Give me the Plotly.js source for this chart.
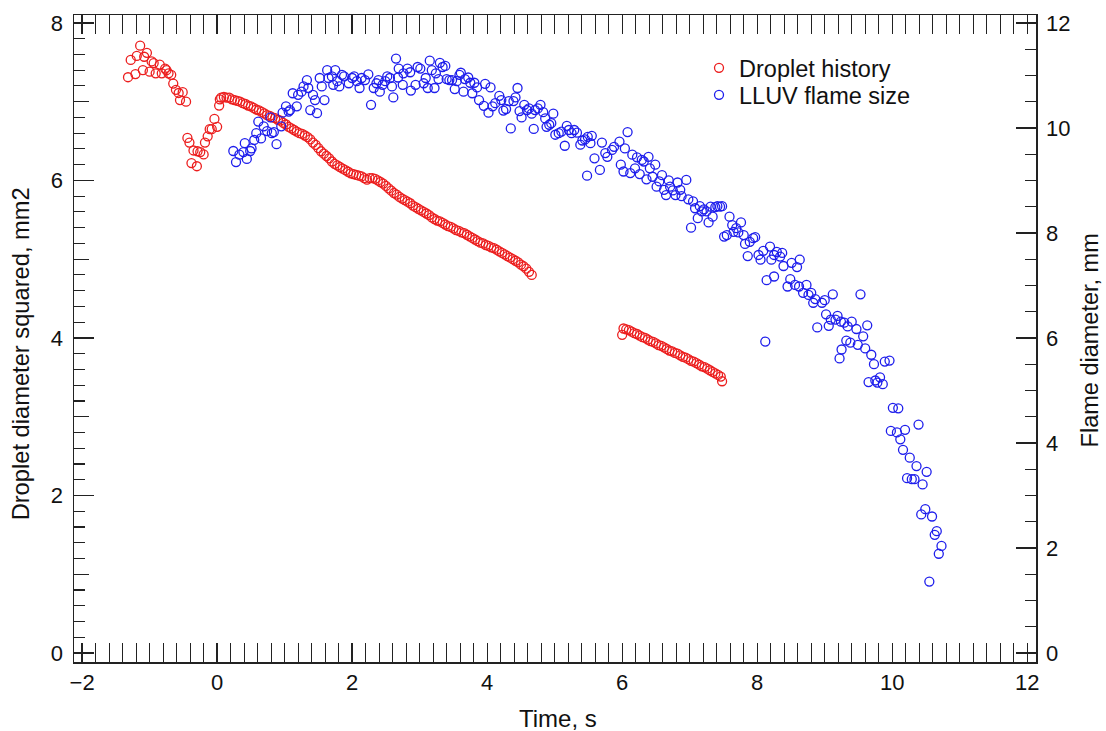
<!DOCTYPE html>
<html>
<head>
<meta charset="utf-8">
<script src="https://cdn.plot.ly/plotly-3.0.1.min.js"></script>
<style>html,body{margin:0;padding:0;background:#fff;}#chart{width:1106px;height:731px;}</style>
</head>
<body>
<div id="chart"></div>
<script>
// Droplet history (left axis, mm^2)
var dropletTime = [
-1.32,-1.28,-1.21,-1.19,-1.14,-1.10,-1.08,-1.04,-1.00,-0.97,-0.94,-0.91,-0.85,-0.82,-0.77,-0.75,-0.72,-0.68,-0.65,-0.61,-0.57,-0.55,-0.51,-0.46,
-0.44,-0.41,-0.38,-0.35,-0.30,-0.29,-0.25,-0.20,-0.18,-0.14,-0.11,-0.08,-0.04,0.00,0.03,0.04,
0.06,0.10,0.14,0.18,0.22,0.26,0.30,0.34,0.38,0.42,0.46,0.50,0.54,0.58,0.62,0.66,0.70,0.74,0.78,0.82,0.86,0.90,0.94,0.98,
1.02,1.06,1.10,1.14,1.18,1.22,1.26,1.30,1.34,1.38,1.42,1.46,1.50,1.54,1.58,1.62,1.66,1.70,1.74,1.78,1.82,1.86,1.90,1.94,1.98,
2.02,2.06,2.10,2.14,2.18,2.22,2.26,2.30,2.34,2.38,2.42,2.46,2.50,2.54,2.58,2.62,2.66,2.70,2.74,2.78,2.82,2.86,2.90,2.94,2.98,
3.02,3.06,3.10,3.14,3.18,3.22,3.26,3.30,3.34,3.38,3.42,3.46,3.50,3.54,3.58,3.62,3.66,3.70,3.74,3.78,3.82,3.86,3.90,3.94,3.98,
4.02,4.06,4.10,4.14,4.18,4.22,4.26,4.30,4.34,4.38,4.42,4.46,4.50,4.54,4.58,4.62,4.66,
6.00,6.02,6.06,6.10,6.14,6.18,6.22,6.26,6.30,6.34,6.38,6.42,6.46,6.50,6.54,6.58,6.62,6.66,6.70,6.74,6.78,6.82,6.86,6.90,6.94,6.98,
7.02,7.06,7.10,7.14,7.18,7.22,7.26,7.30,7.34,7.38,7.42,7.46,7.48
];
var dropletD2 = [
7.31,7.53,7.35,7.58,7.71,7.40,7.57,7.62,7.38,7.51,7.49,7.36,7.47,7.36,7.42,7.40,7.36,7.34,7.23,7.15,7.11,7.02,7.12,7.00,
6.54,6.48,6.22,6.38,6.18,6.37,6.36,6.33,6.48,6.56,6.65,6.65,6.78,6.68,6.95,7.03,
7.05,7.06,7.05,7.05,7.03,7.02,7.01,7.00,6.98,6.97,6.95,6.94,6.92,6.90,6.89,6.87,6.85,6.83,6.82,6.80,6.79,6.77,6.76,6.73,
6.71,6.68,6.66,6.64,6.62,6.60,6.59,6.57,6.55,6.52,6.48,6.45,6.41,6.37,6.34,6.31,6.28,6.24,6.21,6.19,6.17,6.15,6.13,6.11,6.09,
6.08,6.07,6.06,6.05,6.03,6.01,6.03,6.03,6.02,6.00,5.98,5.96,5.93,5.90,5.87,5.84,5.82,5.79,5.77,5.75,5.73,5.71,5.68,5.66,5.64,
5.62,5.60,5.58,5.56,5.53,5.51,5.49,5.48,5.46,5.44,5.42,5.41,5.39,5.37,5.36,5.34,5.33,5.31,5.29,5.27,5.25,5.23,5.21,5.20,5.18,
5.17,5.15,5.14,5.12,5.10,5.08,5.06,5.04,5.02,5.00,4.98,4.96,4.93,4.91,4.88,4.84,4.80,
4.04,4.12,4.11,4.10,4.08,4.06,4.05,4.03,4.01,4.00,3.98,3.96,3.95,3.93,3.91,3.90,3.88,3.86,3.84,3.83,3.81,3.80,3.78,3.76,3.75,3.73,
3.71,3.70,3.68,3.66,3.64,3.63,3.61,3.59,3.57,3.55,3.53,3.51,3.45
];

// LLUV flame size (right axis, mm)
var flameTime = [
0.24,0.28,0.33,0.39,0.41,0.44,0.49,0.51,0.55,0.58,0.61,0.65,0.69,0.74,0.79,0.81,0.84,0.88,0.95,0.97,
1.02,1.06,1.08,1.12,1.18,1.20,1.25,1.28,1.33,1.35,1.38,1.42,1.45,1.48,1.52,1.55,1.59,1.63,1.65,1.70,1.72,1.75,1.78,1.81,1.85,1.88,1.95,
2.00,2.03,2.07,2.11,2.14,2.19,2.24,2.28,2.32,2.36,2.39,2.41,2.45,2.49,2.52,2.56,2.59,2.61,2.65,2.69,2.68,2.76,2.75,2.82,2.86,2.87,2.94,2.97,
3.01,3.06,3.09,3.12,3.15,3.18,3.22,3.24,3.28,3.30,3.34,3.38,3.40,3.44,3.48,3.52,3.55,3.59,3.61,3.65,3.67,3.72,3.75,3.78,3.81,3.85,3.88,3.95,3.97,
4.02,4.05,4.08,4.12,4.18,4.21,4.24,4.28,4.32,4.35,4.39,4.42,4.45,4.48,4.51,4.55,4.59,4.62,4.66,4.69,4.71,4.75,4.79,4.83,4.86,4.88,4.92,4.95,4.98,
5.01,5.06,5.10,5.15,5.18,5.21,5.25,5.29,5.33,5.38,5.41,5.45,5.49,5.53,5.55,5.48,5.59,5.67,5.70,5.75,5.78,5.85,5.88,5.96,5.98,
6.02,6.04,6.08,6.12,6.15,6.19,6.22,6.26,6.29,6.32,6.36,6.39,6.41,6.45,6.49,6.51,6.55,6.59,6.62,6.65,6.69,6.71,6.75,6.79,6.82,6.86,6.88,6.95,6.98,
7.02,7.05,7.08,7.12,7.15,7.18,7.21,7.25,7.28,7.31,7.34,7.38,7.41,7.45,7.48,7.51,7.55,7.59,7.63,7.65,7.69,7.72,7.76,7.80,7.82,7.86,7.89,7.94,7.97,
8.02,8.05,8.09,8.19,8.21,8.25,8.29,8.34,8.37,8.14,8.25,8.39,8.45,8.49,8.51,8.56,8.59,8.63,8.62,8.12,8.68,8.73,8.76,8.80,8.83,8.86,8.96,
9.00,9.12,8.89,9.02,9.06,9.09,9.16,9.19,9.24,9.29,9.34,9.40,9.47,9.53,9.63,9.57,9.32,9.38,9.49,9.25,9.22,9.60,9.69,9.73,9.89,9.96,9.65,9.75,9.82,9.78,9.86,
10.01,10.09,9.98,10.07,10.19,10.12,10.39,10.16,10.26,10.36,10.51,10.22,10.29,10.33,10.45,10.49,10.43,10.59,10.66,10.63,10.73,10.69,10.55
];
var flameDiam = [
9.56,9.35,9.49,9.54,9.71,9.41,9.56,9.61,9.77,9.90,10.12,9.80,10.03,9.94,10.20,9.90,9.92,9.69,10.03,10.29,
10.41,10.31,10.34,10.66,10.41,10.63,10.69,10.79,10.91,10.76,10.34,10.63,10.53,10.28,10.95,10.79,10.53,11.10,10.95,10.98,10.82,11.10,10.89,10.79,11.01,10.98,10.85,
10.95,10.98,10.89,10.76,10.95,10.91,11.02,10.44,10.76,10.85,10.91,10.69,10.82,10.89,10.98,10.95,10.79,10.58,11.32,11.13,10.96,11.04,10.82,11.13,11.06,10.71,10.82,11.16,
11.13,10.85,10.95,10.76,11.28,11.10,10.76,11.04,10.93,11.24,11.16,11.18,10.93,10.91,10.91,10.74,10.89,11.01,11.05,10.69,10.93,10.96,10.86,10.66,10.86,10.77,10.53,10.42,10.84,
10.29,10.77,10.41,10.47,10.61,10.53,10.33,10.36,10.51,9.99,10.51,10.58,10.76,10.32,10.20,10.44,10.34,10.37,10.27,9.98,10.34,10.37,10.44,10.30,10.18,10.02,10.06,10.09,10.27,
9.87,9.90,9.93,9.66,10.04,9.96,9.90,9.96,9.91,9.68,9.76,9.78,9.83,9.71,9.85,9.09,9.42,9.20,9.72,9.52,9.45,9.58,9.64,9.74,9.30,
9.17,9.61,9.92,9.14,9.49,9.23,9.44,9.12,9.39,9.36,9.02,9.45,9.23,9.07,9.30,8.88,8.98,9.10,8.82,8.72,9.00,8.88,8.81,8.72,8.96,8.82,8.70,9.01,8.64,
8.10,8.60,8.47,8.28,8.51,8.41,8.45,8.41,8.20,8.50,8.31,8.49,8.51,8.50,8.51,7.93,7.96,8.31,8.15,8.02,8.09,8.01,8.20,7.96,7.79,7.56,7.83,7.90,7.92,
7.58,7.49,7.66,7.74,7.49,7.58,7.64,7.55,7.62,7.10,7.17,7.37,6.98,7.12,7.43,7.01,7.35,7.49,6.98,5.93,6.86,7.01,6.82,6.86,6.67,6.74,6.67,
6.72,6.83,6.20,6.45,6.23,6.35,6.35,6.42,6.31,6.29,6.22,6.31,6.17,6.83,6.24,6.03,5.95,5.91,5.87,5.78,5.61,5.80,5.68,5.50,5.55,5.57,5.16,5.19,5.25,5.15,5.12,
4.67,4.66,4.23,4.20,4.25,4.07,4.35,3.87,3.72,3.56,3.45,3.33,3.31,3.31,3.21,2.74,2.64,2.60,2.32,2.25,2.04,1.89,1.36
];

var xMajor = [-2,0,2,4,6,8,10,12];
var xMid = [-1,1,3,5,7,9,11];
var yLeftMajor = [0,2,4,6,8];
var yLeftMid = [1,3,5,7];
var yRightMajor = [0,2,4,6,8,10,12];

var FONT = 'Liberation Sans, Arial, Helvetica, sans-serif';
var AX = '#222';
var TXT = '#111';
var xRange = [-2.12, 12.13];
var yRange = [-0.114, 8.10];
var y2Range = [yRange[0]*1.5, yRange[1]*1.5];

var traces = [
  {x: dropletTime, y: dropletD2, name: 'Droplet history', type: 'scatter', mode: 'markers',
   xaxis: 'x', yaxis: 'y', legend: 'legend',
   marker: {symbol: 'circle-open', size: 9, color: 'rgb(236,30,30)', line: {width: 1.3}}},
  {x: flameTime, y: flameDiam, name: 'LLUV flame size', type: 'scatter', mode: 'markers',
   xaxis: 'x', yaxis: 'y2', legend: 'legend2',
   marker: {symbol: 'circle-open', size: 9, color: 'rgb(30,30,236)', line: {width: 1.3}}},
  {x: [], y: [], xaxis: 'x2', yaxis: 'y', showlegend: false, hoverinfo: 'skip'},
  {x: [], y: [], xaxis: 'x', yaxis: 'y3', showlegend: false, hoverinfo: 'skip'}
];

var tickFont = {family: FONT, size: 22, color: TXT};
var legFont = {family: FONT, size: 23.5, color: TXT};

var layout = {
  width: 1106, height: 731,
  margin: {l: 74, r: 70, t: 15, b: 69, pad: 0},
  paper_bgcolor: '#fff', plot_bgcolor: '#fff',
  showlegend: true,
  legend: {x: 0.6497, y: 0.918, xanchor: 'left', yanchor: 'middle', font: legFont,
           bgcolor: 'rgba(0,0,0,0)', itemwidth: 30, borderwidth: 0},
  legend2: {x: 0.6497, y: 0.8763, xanchor: 'left', yanchor: 'middle', font: legFont,
           bgcolor: 'rgba(0,0,0,0)', itemwidth: 30, borderwidth: 0},
  xaxis: {range: xRange, tickvals: xMajor, ticks: 'inside', ticklen: 19, tickwidth: 1.3, tickcolor: AX,
          showline: true, linecolor: AX, linewidth: 1.5, mirror: 'allticks', showgrid: false, zeroline: false,
          tickfont: tickFont, ticklabelstandoff: 0,
          minor: {dtick: 0.2, tick0: 0, ticks: 'inside', ticklen: 10, tickwidth: 1.1, tickcolor: AX, showgrid: false}},
  xaxis2: {overlaying: 'x', anchor: 'y', side: 'bottom', range: xRange, tickvals: xMid, ticks: 'inside',
           ticklen: 14, tickwidth: 1.2, tickcolor: AX, showticklabels: false, mirror: 'allticks',
           showline: false, showgrid: false, zeroline: false},
  yaxis: {range: yRange, tickvals: yLeftMajor, ticks: 'inside', ticklen: 20, tickwidth: 1.3, tickcolor: AX,
          showline: true, linecolor: AX, linewidth: 1.5, mirror: false, showgrid: false, zeroline: false,
          tickfont: tickFont, ticklabelstandoff: 5,
          minor: {dtick: 0.2, tick0: 0, ticks: 'inside', ticklen: 11, tickwidth: 1.1, tickcolor: AX, showgrid: false}},
  yaxis3: {overlaying: 'y', anchor: 'x', side: 'left', range: yRange, tickvals: yLeftMid, ticks: 'inside',
           ticklen: 15, tickwidth: 1.2, tickcolor: AX, showticklabels: false, showline: false,
           showgrid: false, zeroline: false},
  yaxis2: {overlaying: 'y', side: 'right', anchor: 'x', range: y2Range, tickvals: yRightMajor, ticks: 'inside',
           ticklen: 20, tickwidth: 1.3, tickcolor: AX, showline: true, linecolor: AX, linewidth: 1.5,
           showgrid: false, zeroline: false, tickfont: tickFont, ticklabelstandoff: 4,
           minor: {dtick: 0.5, tick0: 0, ticks: 'inside', ticklen: 11, tickwidth: 1.1, tickcolor: AX, showgrid: false}},
  annotations: [
    {text: 'Time, s', xref: 'paper', yref: 'paper', x: 0.503, y: -0.0866, xanchor: 'center', yanchor: 'middle',
     showarrow: false, font: {family: FONT, size: 24, color: TXT}},
    {text: 'Droplet diameter squared, mm2', xref: 'paper', yref: 'paper', x: -0.0551, y: 0.477,
     xanchor: 'center', yanchor: 'middle', textangle: -90, showarrow: false, font: {family: FONT, size: 23.7, color: TXT}},
    {text: 'Flame diameter, mm', xref: 'paper', yref: 'paper', x: 1.0561, y: 0.497,
     xanchor: 'center', yanchor: 'middle', textangle: -90, showarrow: false, font: {family: FONT, size: 23.5, color: TXT}}
  ]
};

Plotly.newPlot('chart', traces, layout, {displayModeBar: false, staticPlot: true});
</script>
</body>
</html>
